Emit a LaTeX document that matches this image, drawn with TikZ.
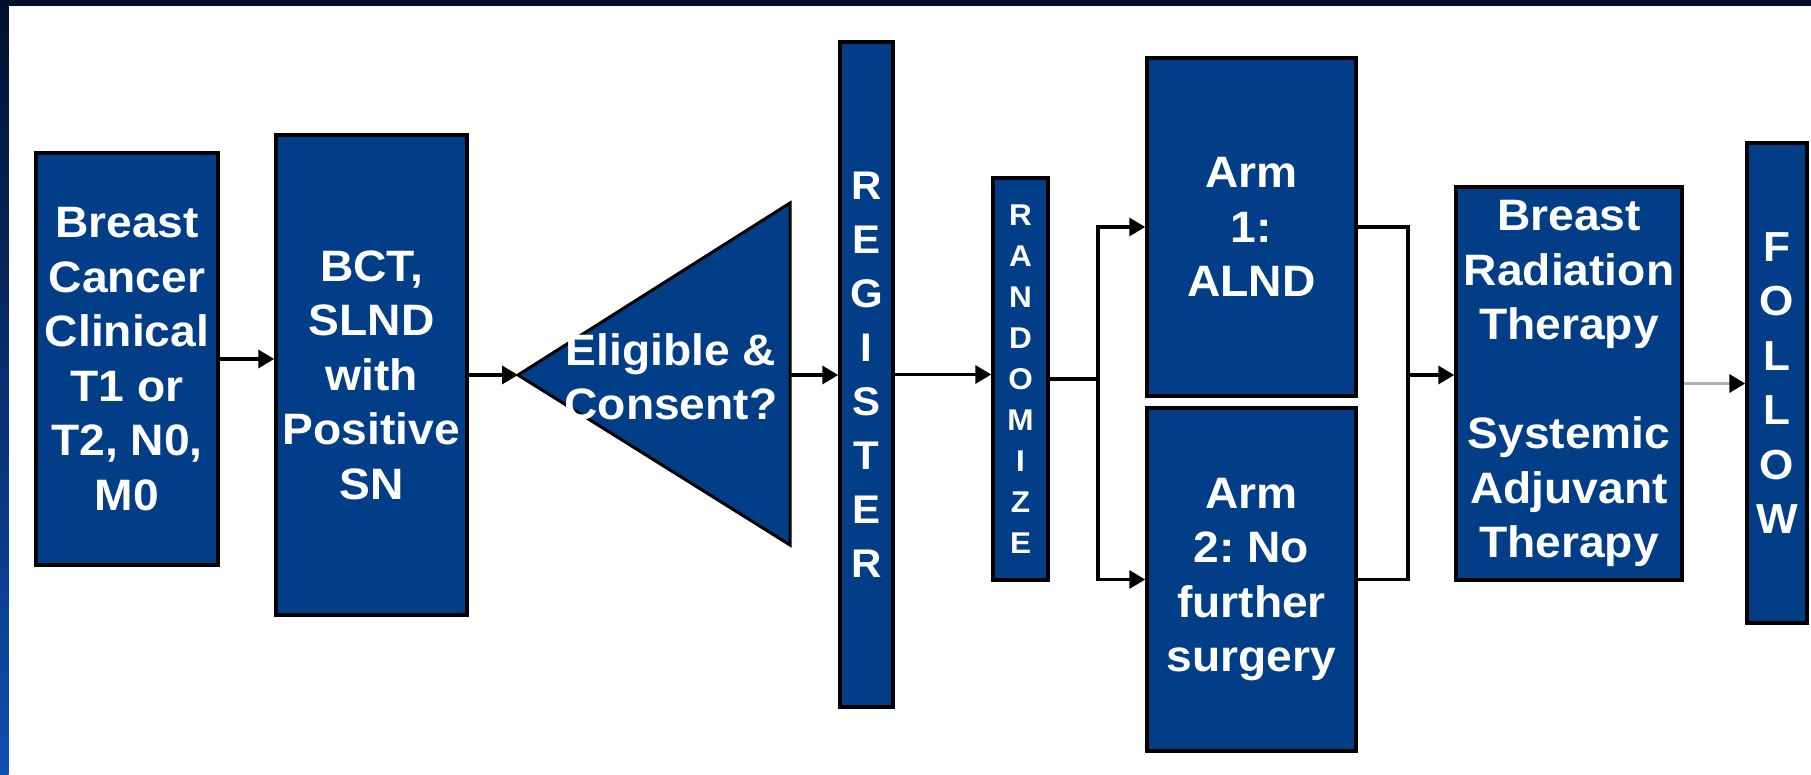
\documentclass[tikz,border=0pt]{standalone}
\usepackage{fontspec}
\setmainfont{Liberation Sans}[FakeStretch=1.05]
\frenchspacing
\usetikzlibrary{arrows.meta}
\definecolor{boxblue}{RGB}{2,62,135}
\definecolor{navy}{RGB}{1,16,46}
\definecolor{bandbot}{RGB}{14,78,178}
\begin{document}
\begin{tikzpicture}[x=1pt,y=-1pt,
  blk/.style={draw=black, line width=3.5pt, fill=boxblue, text=white,
    font=\bfseries\fontsize{44}{54.5}\selectfont, align=center, inner sep=0pt},
  conn/.style={line width=3.5pt, draw=black},
  arr/.style={conn, -{Triangle[length=16pt,width=18pt]}},
  grayarr/.style={line width=3.5pt, draw=gray!60, -{Triangle[length=16pt,width=18pt,color=black]}},
]
\useasboundingbox (0,0) rectangle (1811,775);
\fill[white] (0,0) rectangle (1811,775);
\fill[navy] (0,0) rectangle (1811,6);
\shade[top color=navy, bottom color=bandbot] (0,0) rectangle (8.5,775);

% boxes
\node[blk, minimum width=182pt, minimum height=412pt] (b1) at (127,359)
  {Breast\\Cancer\\Clinical\\T1 or\\T2, N0,\\M0};
\node[blk, minimum width=191pt, minimum height=480pt] (b2) at (371.5,375)
  {BCT,\\SLND\\with\\Positive\\SN};

% triangle
\filldraw[fill=boxblue, draw=black, line width=3pt, line join=miter]
  (518,375) -- (790,203) -- (790,545) -- cycle;
\coordinate (tip) at (518,375);
\coordinate (triR) at (790,375);
\node[text=white, font=\bfseries\fontsize{44}{54.5}\selectfont, align=center, inner sep=0pt]
  (elig) at (671,377) {Eligible \&\\Consent?};

\node[blk, minimum width=53pt, minimum height=665pt,
  font=\bfseries\fontsize{40}{54}\selectfont] (reg) at (866.5,374.5)
  {R\\E\\G\\I\\S\\T\\E\\R};
\node[blk, minimum width=55pt, minimum height=402pt,
  font=\bfseries\fontsize{30}{41}\selectfont] (rand) at (1020.5,379)
  {R\\A\\N\\D\\O\\M\\I\\Z\\E};
\node[blk, minimum width=209pt, minimum height=338pt] (a1) at (1251.5,227)
  {Arm\\1:\\ALND};
\node[blk, minimum width=209pt, minimum height=343pt] (a2) at (1251.5,579.5)
  {Arm\\2: No\\further\\surgery};
\node[blk, minimum width=226pt, minimum height=393pt] (ther) at (1569,383.5)
  {Breast\\Radiation\\Therapy\\[54.5pt]Systemic\\Adjuvant\\Therapy};
\node[blk, minimum width=60pt, minimum height=480pt,
  font=\bfseries\fontsize{42}{54.5}\selectfont] (fol) at (1777,383)
  {F\\O\\L\\L\\O\\W};

% connectors
\draw[arr] (b1.east) -- (b1.east -| b2.west);
\draw[arr] (b2.east) -- (tip);
\draw[arr] (triR) -- (triR -| reg.west);
\draw[arr] (reg.east) -- (reg.east -| rand.west);
\draw[conn] (rand.east) -- ++(48,0) coordinate (split);
\draw[arr] (split) |- (a1.west);
\draw[arr] (split) |- (a2.west);
\draw[conn] (a1.east) -- ++(50,0) coordinate (m1) -- (m1 |- a2.east) -- (a2.east);
\coordinate (merge) at (1406,375);
\draw[arr] (merge) -- (merge -| ther.west);
\draw[grayarr] (ther.east) -- (ther.east -| fol.west);
\end{tikzpicture}
\end{document}
